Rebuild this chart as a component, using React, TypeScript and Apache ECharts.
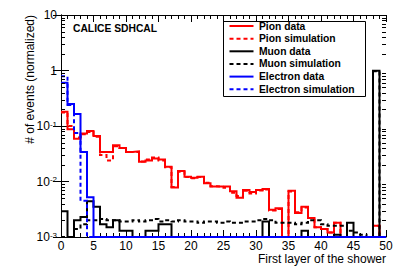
import React, { useEffect, useRef } from "react";
import * as echarts from "echarts";

// First layer of the shower: bins 0..49 (width 1), values are normalized fractions
const pionData = [
  0.18, 0.087, 0.059, 0.073, 0.081, 0.066, 0.034, 0.034, 0.045, 0.04,
  0.034, 0.035, 0.0227, 0.024, 0.026, 0.025, 0.0185, 0.0078, 0.0155, 0.0122,
  0.0117, 0.0122, 0.0093, 0.0081, 0.0081, 0.0081, 0.0067, 0.0051, 0.007, 0.0065,
  0.007, 0.0073, 0.0031, 0.0033, 0, 0.0068, 0.0027, 0.0035, 0.0022, 0.0015,
  0.0014, 0.0012, 0.0018, 0, 0, 0, 0, 0, 0.0016, 0,
];
const pionSim = [
  0.175, 0.1, 0.062, 0.071, 0.078, 0.064, 0.03, 0.024, 0.043, 0.04,
  0.034, 0.034, 0.023, 0.025, 0.027, 0.024, 0.018, 0.008, 0.015, 0.012,
  0.0115, 0.012, 0.0095, 0.0082, 0.008, 0.0077, 0.0063, 0.0055, 0.0068, 0.0061,
  0.0069, 0.0072, 0.003, 0.0032, 0, 0.0066, 0.0028, 0.0034, 0.0022, 0.0015,
  0.0014, 0.0012, 0.0018, 0, 0, 0, 0, 0, 0.0016, 0,
];
const muonData = [
  0.0029, 0, 0.002, 0.0023, 0.0044, 0.0035, 0.0017, 0.0015, 0.002, 0.0013,
  0.0013, 0, 0, 0.0013, 0.0013, 0.0017, 0.0017, 0, 0, 0,
  0, 0, 0, 0, 0, 0, 0, 0, 0, 0,
  0, 0.0019, 0, 0, 0, 0, 0, 0.0013, 0, 0,
  0, 0, 0.0011, 0, 0.0018, 0, 0, 0, 0.99, 0,
];
const muonSim = [
  0, 0, 0.0014, 0.0017, 0.002, 0.002, 0.0021, 0.002, 0.002, 0.0019,
  0.0019, 0.002, 0.0019, 0.002, 0.0021, 0.0019, 0.002, 0.0019, 0.002, 0.0019,
  0.0019, 0.0018, 0.0019, 0.0019, 0.0018, 0.0019, 0.0018, 0.0018, 0.0019, 0.0019,
  0.002, 0.0021, 0.002, 0.0018, 0.0018, 0.0018, 0.0017, 0.0018, 0.002, 0.002,
  0.0017, 0.0016, 0.0016, 0.0016, 0.0013, 0.0012, 0.0011, 0, 0.97, 0,
];
const electronData = [
  0.6, 0.25, 0.165, 0.034, 0.0052, 0, 0, 0, 0, 0,
  0, 0, 0, 0, 0, 0, 0, 0, 0, 0,
  0, 0, 0, 0, 0, 0, 0, 0, 0, 0,
  0, 0, 0, 0, 0, 0, 0, 0, 0, 0,
  0, 0, 0, 0, 0, 0, 0, 0, 0, 0,
];
const electronSim = [
  0.79, 0.24, 0.075, 0.0045, 0, 0, 0, 0, 0, 0,
  0, 0, 0, 0, 0, 0, 0, 0, 0, 0,
  0, 0, 0, 0, 0, 0, 0, 0, 0, 0,
  0, 0, 0, 0, 0, 0, 0, 0, 0, 0,
  0, 0, 0, 0, 0, 0, 0, 0, 0, 0,
];

const seriesNames = [
  "Pion data",
  "Pion simulation",
  "Muon data",
  "Muon simulation",
  "Electron data",
  "Electron simulation",
];
const seriesValues = [pionData, pionSim, muonData, muonSim, electronData, electronSim];
const seriesColors = ["#ff0000", "#ff0000", "#000000", "#000000", "#0000ff", "#0000ff"];
const seriesDashed = [false, true, false, true, false, true];

const X_MIN = 0;
const X_MAX = 50;
const Y_MIN = 0.001;
const Y_MAX = 10;
const minorMantissas = [2, 3, 4, 5, 6, 7, 8, 9];
const decades = [0.001, 0.01, 0.1, 1];

const xTitle = "First layer of the shower";
const yTitle = "# of events (normalized)";
const label = "CALICE SDHCAL";

const FONT = "'Liberation Sans', Arial, Helvetica, sans-serif";

const GRID = { left: 61, top: 15, right: 21, bottom: 39 };
const W = 407;
const H = 276;

function stepData(values: number[]) {
  const pts: number[][] = values.map((v, i) => [X_MIN + i, Math.max(v, Y_MIN)]);
  pts.push([X_MIN + values.length, Math.max(values[values.length - 1], Y_MIN)]);
  return pts;
}

export default function App() {
  const ref = useRef<HTMLDivElement>(null);

  useEffect(() => {
    if (!ref.current) return;
    const chart = echarts.init(ref.current, undefined, { renderer: "svg" });

    const minorTicks: number[][] = [];
    decades.forEach((d) => minorMantissas.forEach((m) => minorTicks.push([X_MIN, m * d])));

    const dataSeries = seriesNames.map((name, k) => ({
      name,
      type: "line",
      step: "end",
      data: stepData(seriesValues[k]),
      showSymbol: false,
      symbol: "none",
      clip: false,
      silent: true,
      lineStyle: {
        color: seriesColors[k],
        width: 2,
        type: seriesDashed[k] ? [4, 3] : "solid",
        cap: "butt",
        join: "miter",
      },
      z: 3,
    }));

    const tickSeries = {
      type: "custom",
      silent: true,
      clip: false,
      z: 4,
      data: minorTicks,
      encode: { x: 0, y: 1 },
      renderItem: (params: any, api: any) => {
        const v = api.value(1);
        const p = api.coord([X_MIN, v]);
        const cs = params.coordSys;
        const l = cs.x;
        const r = cs.x + cs.width;
        const y = Math.round(p[1]) + 0.5;
        return {
          type: "group",
          children: [
            { type: "line", shape: { x1: l, y1: y, x2: l + 4, y2: y }, style: { stroke: "#000", lineWidth: 1 } },
            { type: "line", shape: { x1: r - 4, y1: y, x2: r, y2: y }, style: { stroke: "#000", lineWidth: 1 } },
          ],
        };
      },
    };

    const legLeft = 223.5;
    const legTop = 21.5;
    const legW = 142;
    const legH = 75;
    const rowH = 12.65;
    const firstRow = 26;
    const legendChildren: any[] = [
      {
        type: "rect",
        shape: { x: legLeft, y: legTop, width: legW, height: legH },
        style: { fill: "#fff", stroke: "#000", lineWidth: 1 },
      },
    ];
    seriesNames.forEach((name, k) => {
      const y = firstRow + k * rowH;
      legendChildren.push({
        type: "line",
        shape: { x1: 229.5, y1: y, x2: 253.5, y2: y },
        style: {
          stroke: seriesColors[k],
          lineWidth: 2,
          lineDash: seriesDashed[k] ? [4, 3] : null,
        },
      });
      legendChildren.push({
        type: "text",
        x: 259,
        y: y,
        style: {
          text: name,
          font: `bold 10.3px ${FONT}`,
          fill: "#000",
          align: "left",
          verticalAlign: "middle",
        },
      });
    });

    const axisLine = { show: true, lineStyle: { color: "#000", width: 1 } };

    chart.setOption({
      animation: false,
      backgroundColor: "#fff",
      grid: { ...GRID, containLabel: false },
      xAxis: [
        {
          type: "value",
          min: X_MIN,
          max: X_MAX,
          interval: 5,
          position: "bottom",
          axisLine,
          axisTick: { show: true, inside: true, length: 7, lineStyle: { color: "#000" } },
          minorTick: { show: true, splitNumber: 5, length: 4, lineStyle: { color: "#000" } },
          splitLine: { show: false },
          axisLabel: { color: "#000", fontSize: 12, lineHeight: 12, fontFamily: FONT, margin: 3 },
        },
        {
          type: "value",
          min: X_MIN,
          max: X_MAX,
          interval: 5,
          position: "top",
          axisLine,
          axisTick: { show: true, inside: true, length: 7, lineStyle: { color: "#000" } },
          minorTick: { show: true, splitNumber: 5, length: 4, lineStyle: { color: "#000" } },
          splitLine: { show: false },
          axisLabel: { show: false },
        },
      ],
      yAxis: [
        {
          type: "log",
          logBase: 10,
          min: Y_MIN,
          max: Y_MAX,
          position: "left",
          axisLine,
          axisTick: { show: true, inside: true, length: 8, lineStyle: { color: "#000" } },
          splitLine: { show: false },
          axisLabel: {
            color: "#000",
            fontSize: 12,
            lineHeight: 12,
            fontFamily: FONT,
            margin: 4,
            formatter: (v: number) => {
              const e = Math.round(Math.log10(v));
              if (e === 0) return "1";
              if (e === 1) return "10";
              return `{b|10}{s|${e}}`;
            },
            rich: {
              b: { fontSize: 12, lineHeight: 12, fontFamily: FONT, color: "#000" },
              s: { fontSize: 8, lineHeight: 12, fontFamily: FONT, color: "#000", verticalAlign: "top" },
            },
          },
        },
        {
          type: "log",
          logBase: 10,
          min: Y_MIN,
          max: Y_MAX,
          position: "right",
          axisLine,
          axisTick: { show: true, inside: true, length: 8, lineStyle: { color: "#000" } },
          splitLine: { show: false },
          axisLabel: { show: false },
        },
      ],
      series: [...dataSeries, tickSeries],
      graphic: [
        {
          type: "text",
          x: 73,
          y: 28.5,
          style: { text: label, font: `bold 10.3px ${FONT}`, fill: "#000", verticalAlign: "middle" },
        },
        {
          type: "text",
          x: W - GRID.right,
          y: 258.5,
          style: { text: xTitle, font: `12px ${FONT}`, fill: "#000", align: "right", verticalAlign: "middle" },
        },
        {
          type: "text",
          x: 30,
          y: GRID.top,
          rotation: Math.PI / 2,
          style: { text: yTitle, font: `12px ${FONT}`, fill: "#000", align: "right", verticalAlign: "middle" },
        },
        { type: "group", children: legendChildren, z: 100 },
      ],
    });

    return () => chart.dispose();
  }, []);

  return (
    <div
      ref={ref}
      style={{ position: "fixed", left: 0, top: 0, width: W, height: H, background: "#fff" }}
    />
  );
}
